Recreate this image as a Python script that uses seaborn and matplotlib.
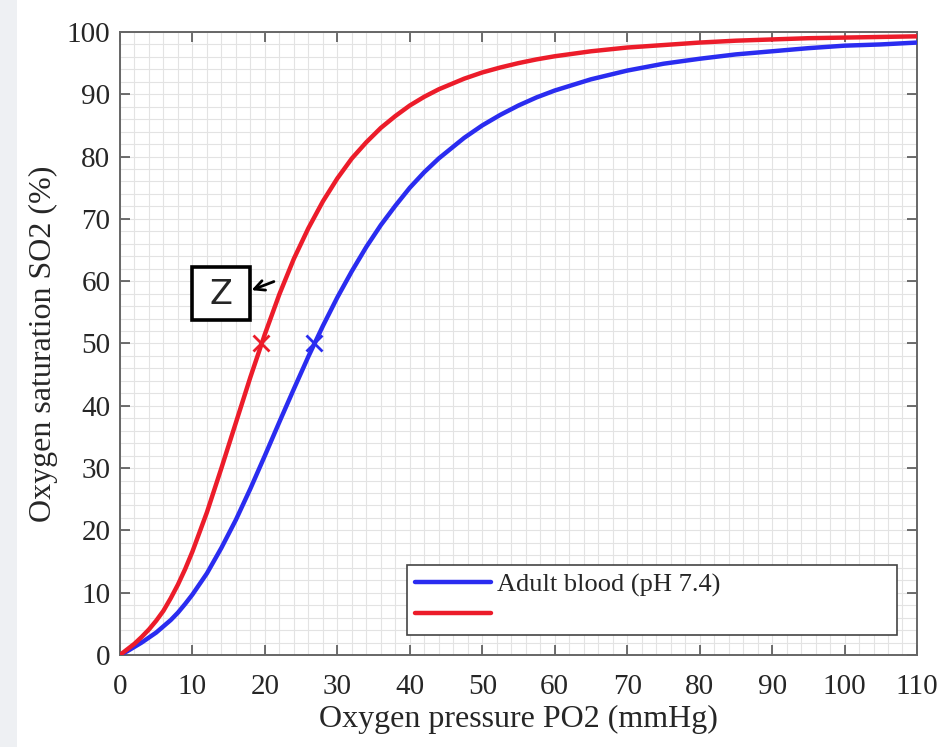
import numpy as np
import pandas as pd
import matplotlib
matplotlib.use("Agg")
import matplotlib.pyplot as plt
import seaborn as sns
from matplotlib.ticker import MultipleLocator
from matplotlib.patches import Rectangle

# ── Data ────────────────────────────────────────────────────────
po2 = [0, 1, 2, 3, 4, 5, 6, 7, 8, 9, 10, 12, 14, 16, 18, 20, 22, 24, 26, 28, 30,
       32, 34, 36, 38, 40, 42, 44, 47.5, 50, 52.5, 55, 57.5, 60, 65, 70, 75,
       80, 85, 90, 95, 100, 105, 110]
so2_adult = [0, 0.6, 1.3, 2.0, 2.8, 3.6, 4.6, 5.6, 6.8, 8.2, 9.7, 13.1, 17.2, 21.7, 26.7, 32.0,
             37.4, 42.7, 47.9, 52.8, 57.4, 61.6, 65.5, 69.0, 72.1, 75.0, 77.5, 79.7, 83.0,
             85.0, 86.7, 88.2, 89.5, 90.6, 92.4, 93.8, 94.9, 95.7, 96.4, 96.9, 97.4, 97.8,
             98.0, 98.3]
so2_red = [0, 0.9, 1.8, 2.9, 4.1, 5.5, 7.1, 9.1, 11.3, 13.8, 16.6, 22.9, 30.0, 37.3, 44.6, 51.5,
           57.9, 63.6, 68.5, 72.8, 76.5, 79.7, 82.3, 84.6, 86.5, 88.2, 89.6, 90.8, 92.5,
           93.5, 94.3, 95.0, 95.6, 96.1, 96.9, 97.5, 97.9, 98.3, 98.6, 98.8, 99.0, 99.1,
           99.2, 99.3]
p50_adult = 26.8
p50_red = 19.5
adult_label = "Adult blood (pH 7.4)"

BLUE = "#2a2cf0"
RED = "#ec1c2a"

sns.set_theme(style="white")
plt.rcParams["font.family"] = ["Liberation Serif", "DejaVu Serif"]

fig = plt.figure(figsize=(9.47, 7.47), dpi=100)
fig.patches.append(Rectangle((0, 0), 0.018, 1, transform=fig.transFigure,
                             facecolor="#eef0f3", edgecolor="none", zorder=0))
ax = fig.add_axes([0.1267, 0.1232, 0.8416, 0.834])

df = pd.DataFrame({"po2": po2, "adult": so2_adult, "red": so2_red})
sns.lineplot(data=df, x="po2", y="adult", color=BLUE, lw=3.2, label=adult_label, ax=ax, zorder=3)
sns.lineplot(data=df, x="po2", y="red", color=RED, lw=3.2, label=" ", ax=ax, zorder=3)

# P50 markers
ax.plot([p50_adult], [50], marker="x", ms=12, mew=2.0, color=BLUE, zorder=4)
ax.plot([p50_red], [50], marker="x", ms=12, mew=2.0, color=RED, zorder=4)

# hand-drawn "Z" note
ax.add_patch(Rectangle((9.9, 53.8), 8.0, 8.4, fc="white", ec="black", lw=2.6, zorder=5))
ax.text(13.9, 57.9, "Z", fontsize=24, family="DejaVu Sans", ha="center", va="center", zorder=6)
ax.annotate("", xy=(17.8, 58.4), xytext=(21.6, 60.1),
            arrowprops=dict(arrowstyle="->", color="black", lw=2.0, mutation_scale=18), zorder=5)

ax.set_xlim(0, 110)
ax.set_ylim(0, 100)
ax.xaxis.set_major_locator(MultipleLocator(10))
ax.yaxis.set_major_locator(MultipleLocator(10))
ax.xaxis.set_minor_locator(MultipleLocator(2))
ax.yaxis.set_minor_locator(MultipleLocator(2))
ax.grid(True, which="both", color="#e3e3e3", lw=0.8, zorder=0)
ax.set_axisbelow(True)
ax.tick_params(which="major", direction="in", length=7, width=1.2, color="#555555",
               top=True, right=True, bottom=True, left=True, labelsize=21)
ax.tick_params(axis="x", which="major", pad=14)
ax.tick_params(axis="y", which="major", pad=7)
ax.tick_params(which="minor", length=0)
for s in ax.spines.values():
    s.set_color("#666666")
    s.set_linewidth(1.4)

ax.set_xlabel("Oxygen pressure PO2 (mmHg)", fontsize=23, labelpad=3)
ax.set_ylabel("Oxygen saturation SO2 (%)", fontsize=23, labelpad=6)

leg = ax.legend(loc="lower left", bbox_to_anchor=(0.36, 0.032, 0.615, 0.11), mode="expand",
                borderaxespad=0, fontsize=19, handlelength=2.9, labelspacing=0.25, borderpad=0.3,
                handletextpad=0.2, fancybox=False, framealpha=1, edgecolor="#444444")
leg.get_frame().set_linewidth(1.2)

plt.savefig("out.png", dpi=100)
